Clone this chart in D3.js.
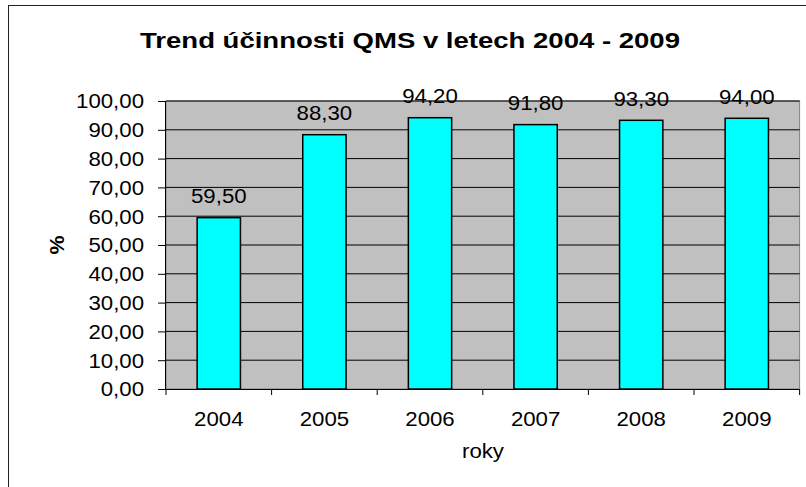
<!DOCTYPE html>
<html>
<head>
<meta charset="utf-8">
<script src="https://cdn.jsdelivr.net/npm/d3@7"></script>
<style>
  body { margin: 0; background: #fff; }
  svg { display: block; font-family: "Liberation Sans", Arial, sans-serif; }
</style>
</head>
<body>
<div id="chart"></div>
<script>
// -------------------- Data --------------------
const years = ["2004", "2005", "2006", "2007", "2008", "2009"];
const values = [59.5, 88.3, 94.2, 91.8, 93.3, 94.0];
const yTicks = [0, 10, 20, 30, 40, 50, 60, 70, 80, 90, 100];

const fmt = v => v.toFixed(2).replace(".", ",");

// the original text is a bit wider than Arial, stretch it horizontally
const SX = 1.14;
function stretch(sel) {
  sel.each(function () {
    const t = d3.select(this);
    const x = +t.attr("x") || 0;
    t.attr("x", x / SX).attr("transform", `scale(${SX},1)`);
  });
}

// -------------------- SVG --------------------
const width = 806, height = 487;
const svg = d3.select("#chart").append("svg")
  .attr("width", width).attr("height", height);

// outer chart border (cut off at right and bottom like the original)
svg.append("rect")
  .attr("x", 8.5).attr("y", 5.5)
  .attr("width", 820).attr("height", 500)
  .attr("fill", "#fff").attr("stroke", "#222").attr("stroke-width", 1);

const plot = { left: 166, top: 101, right: 799.6, bottom: 389 };

const x = d3.scaleBand().domain(years)
  .range([plot.left, plot.right]).paddingInner(0.59).paddingOuter(0.295);
const y = d3.scaleLinear().domain([0, 100]).range([plot.bottom, plot.top]);

// plot area
svg.append("rect")
  .attr("x", plot.left).attr("y", plot.top)
  .attr("width", plot.right - plot.left).attr("height", plot.bottom - plot.top)
  .attr("fill", "#c0c0c0").attr("stroke", "#808080").attr("stroke-width", 1);

// gridlines
svg.append("g").selectAll("line").data(yTicks.filter(t => t > 0)).join("line")
  .attr("x1", plot.left).attr("x2", plot.right)
  .attr("y1", d => y(d)).attr("y2", d => y(d))
  .attr("stroke", "#000").attr("stroke-width", 1);

// bars
svg.append("g").selectAll("rect").data(values).join("rect")
  .attr("x", (d, i) => x(years[i]))
  .attr("y", d => y(d))
  .attr("width", x.bandwidth())
  .attr("height", d => plot.bottom - y(d))
  .attr("fill", "#00ffff").attr("stroke", "#000").attr("stroke-width", 1.5);

// data labels
svg.append("g").selectAll("text").data(values).join("text")
  .attr("x", (d, i) => x(years[i]) + x.bandwidth() / 2)
  .attr("y", d => y(d) - 14.5)
  .attr("text-anchor", "middle")
  .style("font-size", "19.5px").attr("fill", "#000")
  .text(d => fmt(d))
  .call(stretch);

// y axis
const yAxis = d3.axisLeft(y).tickValues(yTicks).tickSize(8).tickPadding(14)
  .tickFormat(fmt);
const gy = svg.append("g").attr("transform", `translate(${plot.left},0)`).call(yAxis);
gy.select(".domain").attr("stroke", "#000").attr("d", `M-0.5,${plot.top}V${plot.bottom}`);
gy.selectAll(".tick line").attr("stroke", "#000");
gy.selectAll(".tick text").style("font-size", "19.5px").attr("fill", "#000")
  .style("font-family", "Liberation Sans, Arial, sans-serif")
  .attr("dy", "0.35em")
  .call(stretch);

// x axis
const xAxis = d3.axisBottom(x).tickSize(0).tickPadding(23);
const gx = svg.append("g").attr("transform", `translate(0,${plot.bottom})`).call(xAxis);
gx.select(".domain").attr("stroke", "#000").attr("d", `M${plot.left},0.5H${plot.right}`);
gx.selectAll(".tick text").style("font-size", "19.5px").attr("fill", "#000")
  .style("font-family", "Liberation Sans, Arial, sans-serif")
  .call(stretch);

// category separator ticks
const step = x.step();
svg.append("g").selectAll("line").data(d3.range(years.length + 1)).join("line")
  .attr("x1", i => plot.left + i * step).attr("x2", i => plot.left + i * step)
  .attr("y1", plot.bottom).attr("y2", plot.bottom + 6)
  .attr("stroke", "#000");

// title
svg.append("text")
  .attr("x", 410).attr("y", 48)
  .attr("text-anchor", "middle")
  .attr("textLength", 540).attr("lengthAdjust", "spacingAndGlyphs")
  .style("font-size", "22px").style("font-weight", "bold")
  .text("Trend účinnosti QMS v letech 2004 - 2009");

// axis titles
svg.append("text")
  .attr("x", 483).attr("y", 458)
  .attr("text-anchor", "middle")
  .style("font-size", "19.5px")
  .text("roky")
  .call(stretch);

svg.append("text")
  .attr("transform", "translate(64,245) rotate(-90) scale(1.1,1)")
  .attr("text-anchor", "middle")
  .style("font-size", "19.5px").style("font-weight", "bold")
  .text("%");
</script>
</body>
</html>
